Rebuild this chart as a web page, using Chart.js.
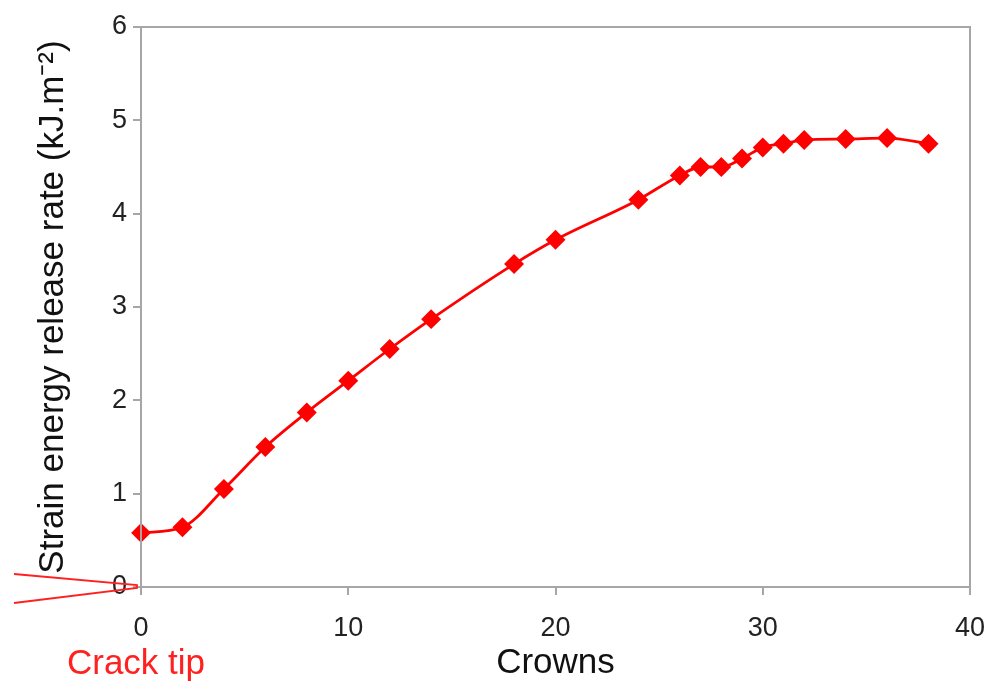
<!DOCTYPE html>
<html><head><meta charset="utf-8">
<script src="https://cdn.jsdelivr.net/npm/chart.js@4/dist/chart.umd.min.js"></script>
<style>html,body{margin:0;padding:0;background:#fff}#wrap{width:994px;height:688px}</style>
</head><body><div id="wrap"><canvas id="c" width="994" height="688"></canvas></div>
<script>
const crowns = [0, 2, 4, 6, 8, 10, 12, 14, 18, 20, 24, 26, 27, 28, 29, 30, 31, 32, 34, 36, 38];
const gValues = [0.58, 0.64, 1.05, 1.5, 1.87, 2.21, 2.55, 2.87, 3.46, 3.72, 4.15, 4.41, 4.5, 4.5, 4.59, 4.71, 4.75, 4.79, 4.8, 4.81, 4.75];
const xTicks = [0, 10, 20, 30, 40];
const yTicks = [0, 1, 2, 3, 4, 5, 6];
const xTitle = 'Crowns';
const yTitle = 'Strain energy release rate (kJ.m\u207B\u00B2)';
const tipLabel = 'Crack tip';

const FONT = 'Liberation Sans, Arial, sans-serif';

const deco = {
  id: 'deco',
  afterDraw(chart) {
    const {ctx, chartArea: a, scales: {x, y}} = chart;
    ctx.save();
    ctx.strokeStyle = '#a6a6a6';
    ctx.lineWidth = 2;
    ctx.strokeRect(a.left, a.top, a.right - a.left, a.bottom - a.top);
    // crack tip wedge
    const x0 = x.getPixelForValue(0) - 4, y0 = y.getPixelForValue(0);
    ctx.strokeStyle = '#ff2020';
    ctx.lineWidth = 1.8;
    ctx.beginPath();
    ctx.moveTo(14, y0 - 13);
    ctx.lineTo(x0, y0 - 2);
    ctx.lineTo(x0, y0 + 1);
    ctx.lineTo(14, y0 + 16);
    ctx.stroke();
    ctx.fillStyle = '#ff2020';
    ctx.font = '35px ' + FONT;
    ctx.textAlign = 'center';
    ctx.textBaseline = 'middle';
    ctx.fillText(tipLabel, x.getPixelForValue(0) - 5, 664);
    ctx.restore();
  }
};

new Chart(document.getElementById('c'), {
  type: 'line',
  data: {
    datasets: [{
      data: crowns.map((c, i) => ({x: c, y: gValues[i]})),
      borderColor: '#ff0000',
      backgroundColor: '#ff0000',
      borderWidth: 2.8,
      pointStyle: 'rectRot',
      pointRadius: 8,
      pointHoverRadius: 8,
      cubicInterpolationMode: 'monotone',
      clip: false
    }]
  },
  options: {
    responsive: false,
    animation: false,
    layout: {padding: {top: 27, right: 24, left: 0, bottom: 0}},
    plugins: {legend: {display: false}, tooltip: {enabled: false}},
    scales: {
      x: {
        type: 'linear', min: 0, max: 40,
        afterBuildTicks: s => { s.ticks = xTicks.map(v => ({value: v})); },
        afterFit: s => { s.height = 101; s.paddingRight = 0; s.paddingLeft = 0; },
        grid: {drawOnChartArea: false, color: '#a6a6a6', tickLength: 8, lineWidth: 2},
        border: {display: false},
        ticks: {color: '#222', font: {family: FONT, size: 27}, padding: 17, maxRotation: 0},
        title: {display: true, text: xTitle, color: '#111', font: {family: FONT, size: 35}, padding: {top: 0, bottom: 4}}
      },
      y: {
        type: 'linear', min: 0, max: 6,
        afterBuildTicks: s => { s.ticks = yTicks.map(v => ({value: v})); },
        afterFit: s => { s.width = 141; s.paddingTop = 0; s.paddingBottom = 0; },
        grid: {drawOnChartArea: false, color: '#a6a6a6', tickLength: 8, lineWidth: 2},
        border: {display: false},
        ticks: {color: '#222', font: {family: FONT, size: 27}, padding: 6},
        title: {display: true, text: yTitle, color: '#111', font: {family: FONT, size: 35}, padding: {top: 32}}
      }
    }
  },
  plugins: [deco]
});
</script></body></html>
